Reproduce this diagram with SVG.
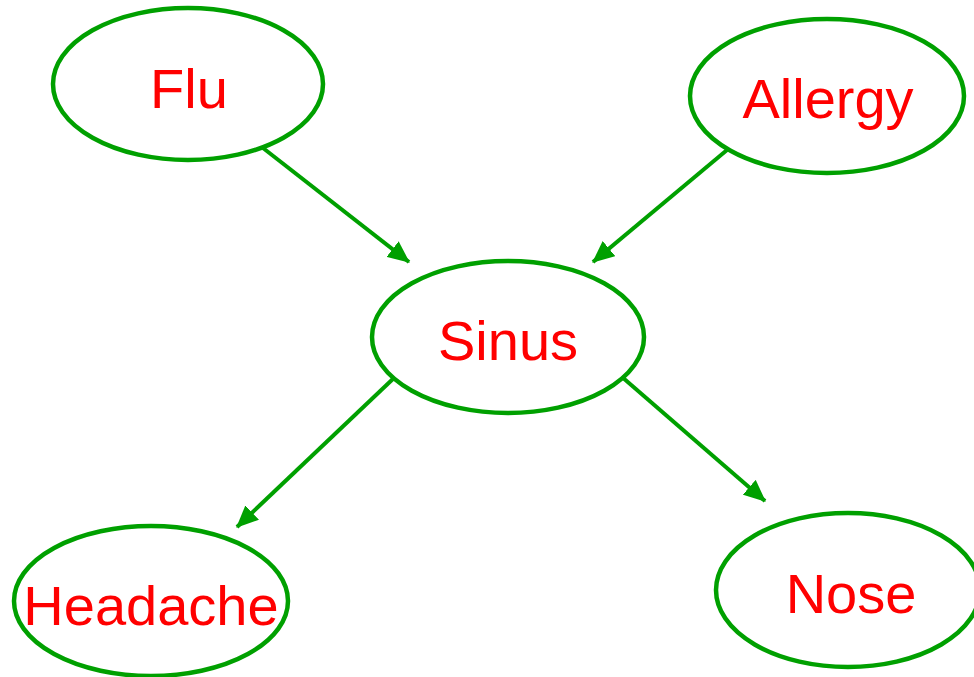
<svg xmlns="http://www.w3.org/2000/svg" width="974" height="677" viewBox="0 0 974 677">
<style>
.node ellipse{fill:#fff;stroke:#00a000;stroke-width:4.5}
.node text{font-family:"Liberation Sans",Arial,sans-serif;font-size:56px;fill:#ff0000;text-anchor:middle}
.edge{stroke:#00a000;stroke-width:4;fill:none}
</style>
<defs>
<marker id="ah" markerUnits="userSpaceOnUse" markerWidth="22" markerHeight="20" refX="19" refY="9" orient="auto" viewBox="0 0 20 18">
<path d="M0,0 L20,9 L0,18 Z" fill="#00a000"/>
</marker>
</defs>
<rect width="974" height="677" fill="#fff"/>
<g id="connectors">
<line class="edge" x1="263" y1="148" x2="409" y2="262" marker-end="url(#ah)"/>
<line class="edge" x1="727" y1="150" x2="593" y2="262" marker-end="url(#ah)"/>
<line class="edge" x1="395" y1="377" x2="237" y2="527" marker-end="url(#ah)"/>
<line class="edge" x1="622" y1="377" x2="765" y2="501" marker-end="url(#ah)"/>
</g>
<g id="flu" class="node"><ellipse cx="188" cy="84" rx="135" ry="76"/><text x="189" y="108">Flu</text></g>
<g id="allergy" class="node"><ellipse cx="827" cy="96" rx="137" ry="77"/><text x="828" y="118">Allergy</text></g>
<g id="sinus" class="node"><ellipse cx="508" cy="337" rx="136" ry="76"/><text x="508" y="360">Sinus</text></g>
<g id="headache" class="node"><ellipse cx="151" cy="601" rx="137" ry="75"/><text x="151" y="625">Headache</text></g>
<g id="nose" class="node"><ellipse cx="848" cy="590" rx="132" ry="77"/><text x="851" y="613">Nose</text></g>
</svg>
